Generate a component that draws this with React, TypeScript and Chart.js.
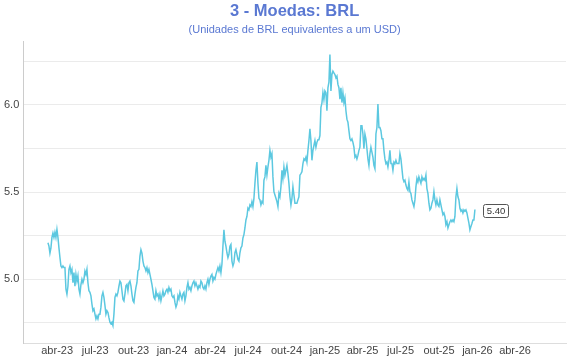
import { useEffect, useRef } from "react";
import { Chart, registerables } from "chart.js";

Chart.register(...registerables);

const TITLE = "3 - Moedas: BRL";
const SUBTITLE = "(Unidades de BRL equivalentes a um USD)";

// first and last observation dates; the observations are evenly spaced between them
const FIRST_DATE = "2023-03-10";
const LAST_DATE = "2025-12-26";

// x-axis range
const X_MIN_DATE = "2023-01-10";
const X_MAX_DATE = "2026-08-01";

const TICK_DATES = [
  "2023-04-01", "2023-07-01", "2023-10-01", "2024-01-01", "2024-04-01", "2024-07-01",
  "2024-10-01", "2025-01-01", "2025-04-01", "2025-07-01", "2025-10-01", "2026-01-01", "2026-04-01",
];
const TICK_LABELS = [
  "abr-23", "jul-23", "out-23", "jan-24", "abr-24", "jul-24",
  "out-24", "jan-25", "abr-25", "jul-25", "out-25", "jan-26", "abr-26",
];

const Y_MIN = 4.63;
const Y_MAX = 6.366;
const Y_GRID = [4.75, 5.0, 5.25, 5.5, 5.75, 6.0, 6.25];

// BRL per USD
const BRL = [
  5.209, 5.19, 5.15, 5.18, 5.24, 5.265, 5.24, 5.27, 5.24, 5.285,
  5.24, 5.18, 5.125, 5.076, 5.067, 5.076, 5.067, 5.067, 4.943, 4.915,
  4.96, 5.057, 5.076, 5.038, 5.057, 4.98, 5.038, 4.96, 5.028, 4.99,
  5.02, 4.943, 4.915, 4.97, 5.0, 4.98, 5.0, 5.047, 5.028, 5.057,
  4.98, 4.934, 4.925, 4.905, 4.858, 4.82, 4.83, 4.8, 4.773, 4.79,
  4.773, 4.8, 4.8, 4.84, 4.905, 4.925, 4.896, 4.85, 4.8, 4.82,
  4.81, 4.78, 4.754, 4.745, 4.754, 4.735, 4.8, 4.896, 4.915, 4.905,
  4.925, 4.96, 4.99, 4.98,
  4.934, 4.886, 4.876, 4.915, 4.962, 4.97, 4.934, 4.98, 4.99, 4.962,
  4.915, 4.877, 4.867, 4.915, 4.953, 4.98, 5.048, 5.057, 5.133, 5.17,
  5.15, 5.104, 5.076, 5.067, 5.048, 5.067, 5.038, 5.057, 5.028, 5.0,
  4.97, 4.934, 4.896, 4.886, 4.934, 4.905, 4.915, 4.886, 4.915, 4.877,
  4.905, 4.934, 4.905, 4.915, 4.934, 4.943, 4.925, 4.953, 4.934, 4.943,
  4.905, 4.896, 4.905, 4.867, 4.84, 4.858, 4.905, 4.886, 4.925, 4.905,
  4.886, 4.915, 4.925, 4.877, 4.905, 4.953, 4.98, 4.943, 4.953, 4.934,
  4.962, 4.98, 4.99,
  4.962, 4.98, 4.962, 4.943, 4.962, 4.953, 4.99, 4.98, 4.953, 4.943,
  4.962, 4.943, 4.98, 5.0, 4.97, 5.0, 5.019, 5.028, 4.99, 5.01,
  5.0, 5.028, 5.048, 5.067, 5.048, 5.076, 5.038, 5.086, 5.19, 5.284,
  5.218, 5.19, 5.152, 5.124, 5.143, 5.19, 5.2, 5.104, 5.076, 5.095,
  5.152, 5.17, 5.143, 5.114, 5.104, 5.152, 5.18, 5.19, 5.237, 5.256,
  5.294, 5.34, 5.36, 5.407, 5.398, 5.426, 5.417, 5.445, 5.417, 5.464,
  5.55, 5.625, 5.672, 5.55, 5.464, 5.455, 5.426, 5.445, 5.436, 5.568,
  5.587, 5.653, 5.597, 5.644, 5.682, 5.739, 5.7, 5.72, 5.587, 5.502,
  5.483, 5.464, 5.445, 5.417, 5.492, 5.473, 5.53, 5.625, 5.578, 5.644,
  5.597, 5.625, 5.653, 5.606, 5.55, 5.473, 5.426, 5.464, 5.53, 5.483,
  5.436, 5.436, 5.436, 5.455, 5.473, 5.597, 5.606, 5.616, 5.663, 5.69,
  5.682, 5.7, 5.672, 5.739, 5.795, 5.862, 5.795, 5.682, 5.739, 5.767,
  5.795, 5.757, 5.785, 5.8, 5.8, 5.824, 5.985, 6.01, 6.07, 6.03,
  6.08, 6.07, 5.966, 6.098, 6.13, 6.288, 6.08, 6.174, 6.193, 6.183,
  6.174, 6.155,
  6.165, 6.117, 6.098, 6.032, 6.098, 6.013, 6.07, 6.013, 6.04, 5.966,
  5.918, 5.9, 5.852, 5.805, 5.795, 5.805, 5.785, 5.757, 5.7, 5.71,
  5.69, 5.71, 5.739, 5.757, 5.88, 5.88, 5.833, 5.748, 5.833, 5.805,
  5.748, 5.69, 5.653, 5.72, 5.757, 5.729, 5.7, 5.653, 5.634, 5.833,
  5.87, 6.004, 5.87, 5.87, 5.852, 5.805, 5.805, 5.739, 5.69, 5.663,
  5.672, 5.644, 5.682, 5.739, 5.663, 5.663, 5.625, 5.672, 5.663, 5.682,
  5.663, 5.663, 5.663, 5.72, 5.69, 5.634, 5.578, 5.56, 5.568, 5.54,
  5.52,
  5.51, 5.558, 5.502, 5.492, 5.455, 5.436, 5.417, 5.455, 5.53, 5.578,
  5.558, 5.587, 5.568, 5.55, 5.587, 5.568, 5.578, 5.568, 5.597, 5.52,
  5.492, 5.436, 5.398, 5.407, 5.436, 5.455, 5.502, 5.455, 5.426, 5.455,
  5.426, 5.417, 5.455, 5.426, 5.398, 5.37, 5.38, 5.36, 5.313, 5.33,
  5.294, 5.313, 5.33, 5.34, 5.33, 5.34, 5.33, 5.36, 5.473, 5.52,
  5.473, 5.455, 5.407, 5.39, 5.398, 5.38, 5.398, 5.39, 5.398, 5.38,
  5.35, 5.322, 5.284, 5.303, 5.32, 5.34, 5.34, 5.4,
];

const FONT = "'Liberation Sans', Arial, Helvetica, sans-serif";
const TITLE_COLOR = "#5a78d2";
const LINE_COLOR = "#5cc8e0";

function dayNum(s: string): number {
  const [y, m, d] = s.split("-").map(Number);
  return (Date.UTC(y, m - 1, d) - Date.UTC(2023, 0, 1)) / 86400000;
}

const lastLabelPlugin = {
  id: "lastLabel",
  afterDatasetsDraw(chart: any) {
    const meta = chart.getDatasetMeta(0);
    const pt = meta.data[meta.data.length - 1];
    if (!pt) return;
    const txt = BRL[BRL.length - 1].toFixed(2);
    const ctx = chart.ctx;
    ctx.save();
    ctx.font = `9.5px ${FONT}`;
    const w = Math.round(ctx.measureText(txt).width + 7);
    const h = 13;
    const x0 = Math.round(pt.x + 8) + 0.5;
    const y0 = Math.round(pt.y + 1 - h / 2) + 0.5;
    ctx.beginPath();
    if (ctx.roundRect) ctx.roundRect(x0, y0, w, h, 2);
    else ctx.rect(x0, y0, w, h);
    ctx.fillStyle = "#ffffff";
    ctx.fill();
    ctx.strokeStyle = "#555555";
    ctx.lineWidth = 1;
    ctx.stroke();
    ctx.fillStyle = "#333333";
    ctx.textBaseline = "middle";
    ctx.textAlign = "center";
    ctx.fillText(txt, x0 + w / 2, y0 + h / 2 + 0.5);
    ctx.restore();
  },
};

export default function App() {
  const ref = useRef<HTMLCanvasElement | null>(null);

  useEffect(() => {
    if (!ref.current) return;
    const d0 = dayNum(FIRST_DATE);
    const d1 = dayNum(LAST_DATE);
    const step = (d1 - d0) / (BRL.length - 1);
    const points = BRL.map((v, i) => ({ x: d0 + i * step, y: v }));

    const chart = new Chart(ref.current, {
      type: "line",
      data: {
        datasets: [
          {
            data: points,
            borderColor: LINE_COLOR,
            borderWidth: 1.5,
            pointRadius: 0,
            tension: 0,
            fill: false,
          },
        ],
      },
      options: {
        animation: false,
        responsive: true,
        maintainAspectRatio: false,
        layout: { padding: { left: 0, right: 4, top: 0, bottom: 1 } },
        plugins: {
          legend: { display: false },
          tooltip: { enabled: false },
          title: {
            display: true,
            fullSize: false,
            text: TITLE,
            color: TITLE_COLOR,
            font: { family: FONT, size: 16.5, weight: "bold" },
            padding: { top: 2, bottom: 2 },
          },
          subtitle: {
            display: true,
            fullSize: false,
            text: SUBTITLE,
            color: TITLE_COLOR,
            font: { family: FONT, size: 11, weight: "normal" },
            padding: { top: 0, bottom: 4 },
          },
        },
        scales: {
          x: {
            type: "linear",
            min: dayNum(X_MIN_DATE),
            max: dayNum(X_MAX_DATE),
            grid: { display: false, drawTicks: false },
            border: { display: true, color: "#dddddd" },
            afterBuildTicks: (scale: any) => {
              scale.ticks = TICK_DATES.map((d) => ({ value: dayNum(d) }));
            },
            ticks: {
              autoSkip: false,
              maxRotation: 0,
              padding: 1,
              color: "#444444",
              font: { family: FONT, size: 11 },
              callback: (_v: any, i: number) => TICK_LABELS[i],
            },
          },
          y: {
            min: Y_MIN,
            max: Y_MAX,
            grid: { color: "#ebebeb", drawTicks: false },
            border: { display: true, color: "#cccccc" },
            afterBuildTicks: (scale: any) => {
              scale.ticks = Y_GRID.map((v) => ({ value: v }));
            },
            ticks: {
              padding: 4,
              color: "#444444",
              font: { family: FONT, size: 11 },
              callback: (v: any) => {
                const n = Number(v);
                return Math.abs(n * 2 - Math.round(n * 2)) < 1e-6 ? n.toFixed(1) : "";
              },
            },
          },
        },
      },
      plugins: [lastLabelPlugin],
    } as any);

    return () => chart.destroy();
  }, []);

  return (
    <div style={{ position: "fixed", left: 0, top: 0, width: 570, height: 360, background: "#fff" }}>
      <canvas ref={ref} />
    </div>
  );
}
